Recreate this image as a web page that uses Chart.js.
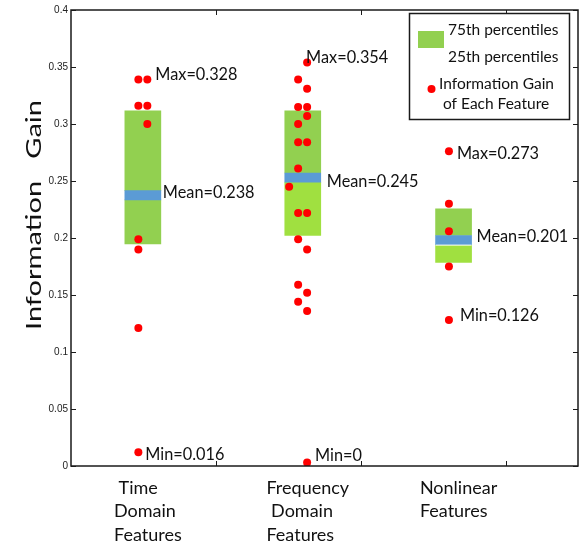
<!DOCTYPE html>
<html><head><meta charset="utf-8">
<script src="https://cdn.jsdelivr.net/npm/chart.js@4.4.1/dist/chart.umd.min.js"></script>
<style>html,body{margin:0;padding:0;background:#fff}canvas{display:block}</style>
</head><body>
<canvas id="c" width="582" height="546"></canvas>
<script>
// ---------- data ----------
const categories = [[' Time', 'Domain', 'Features'], ['Frequency', ' Domain', 'Features'], ['Nonlinear', 'Features']];
const groupX = [0.496, 1.600, 2.641];
const q75 = [0.3115, 0.3115, 0.2256];
const q25 = [0.1947, 0.2022, 0.1786];
const means = [0.2375, 0.2530, 0.1982];
const maxLabels = ['Max=0.328', 'Max=0.354', 'Max=0.273'];
const meanLabels = ['Mean=0.238', 'Mean=0.245', 'Mean=0.201'];
const minLabels = ['Min=0.016', 'Min=0', 'Min=0.126'];
const timePoints = [[0.465,0.339],[0.527,0.339],[0.465,0.316],[0.527,0.316],[0.527,0.300],[0.465,0.199],[0.465,0.190],[0.465,0.121],[0.465,0.012]];
const freqPoints = [[1.630,0.354],[1.568,0.339],[1.630,0.331],[1.568,0.315],[1.630,0.315],[1.630,0.307],[1.568,0.300],[1.568,0.284],[1.630,0.284],[1.568,0.261],[1.506,0.245],[1.568,0.222],[1.630,0.222],[1.568,0.199],[1.630,0.190],[1.568,0.159],[1.630,0.152],[1.568,0.144],[1.630,0.136],[1.630,0.003]];
const nonlinearPoints = [[2.609,0.276],[2.609,0.230],[2.609,0.206],[2.609,0.175],[2.609,0.128]];
const yTickValues = [0, 0.05, 0.1, 0.15, 0.2, 0.25, 0.3, 0.35, 0.4];
const yTickLabels = ['0', '0.05', '0.1', '0.15', '0.2', '0.25', '0.3', '0.35', '0.4'];
const xTickValues = [1, 2, 3];
const yTitle = 'Information   Gain';
const legendTexts = ['75th percentiles', '25th percentiles', 'Information Gain', 'of Each Feature'];

// ---------- styles ----------
const GREEN = '#92D050';
const lowerColors = ['#92D050', '#A0E040', '#A0E040'];
const BLUE = '#5B9BD5';
const RED = '#FF0000';
const BAND = 0.004;
const LABEL_FONT = '16.3px Lato';
const groupsPts = [timePoints, freqPoints, nonlinearPoints];
const maxOff = [[8,-5],[-1,-5],[8,2]];
const meanOff = [[2,-2.5],[6,4.5],[5,-3]];
const minOff = [[7,2.5],[8,-7],[11,-4.5]];

const toXY = a => a.map(p => ({x: p[0], y: p[1]}));
const allPoints = toXY(timePoints.concat(freqPoints, nonlinearPoints));

const upperData = groupX.map((x, i) => ({x, y: [means[i] + BAND, q75[i]]}));
const lowerData = groupX.map((x, i) => ({x, y: [q25[i], means[i] - BAND]}));
const bandData = groupX.map((x, i) => ({x, y: [means[i] - BAND, means[i] + BAND]}));

const annot = {
  id: 'annot',
  afterDatasetsDraw(chart) {
    const {ctx, scales: {x, y}} = chart;
    ctx.save();
    // thin white separator under the nonlinear mean band
    ctx.fillStyle = '#fff';
    const nx = x.getPixelForValue(groupX[2]);
    ctx.fillRect(nx - 18, y.getPixelForValue(means[2] - BAND), 36, 1);
    ctx.fillStyle = '#111';
    ctx.font = LABEL_FONT;
    ctx.textBaseline = 'middle';
    ctx.textAlign = 'left';
    groupsPts.forEach((pts, g) => {
      let top = pts[0], bot = pts[0];
      pts.forEach(p => { if (p[1] > top[1] || (p[1] === top[1] && p[0] > top[0])) top = p; if (p[1] < bot[1]) bot = p; });
      ctx.fillText(maxLabels[g], x.getPixelForValue(top[0]) + maxOff[g][0], y.getPixelForValue(top[1]) + maxOff[g][1]);
      ctx.fillText(minLabels[g], x.getPixelForValue(bot[0]) + minOff[g][0], y.getPixelForValue(bot[1]) + minOff[g][1]);
      const right = x.getPixelForValue(groupX[g]) + 18;
      ctx.fillText(meanLabels[g], right + meanOff[g][0], y.getPixelForValue(means[g]) + meanOff[g][1]);
    });
    ctx.restore();
  },
  afterDraw(chart) {
    const {ctx, chartArea: a, scales: {x, y}} = chart;
    ctx.save();
    // frame
    ctx.strokeStyle = '#1a1a1a';
    ctx.lineWidth = 1.5;
    ctx.strokeRect(a.left, a.top, a.right - a.left, a.bottom - a.top);
    ctx.lineWidth = 1;
    ctx.beginPath();
    yTickValues.forEach(v => {
      const py = Math.round(y.getPixelForValue(v)) + 0.5;
      ctx.moveTo(a.left, py); ctx.lineTo(a.left + 5, py);
      ctx.moveTo(a.right, py); ctx.lineTo(a.right - 5, py);
    });
    xTickValues.forEach(v => {
      const px = Math.round(x.getPixelForValue(v)) + 0.5;
      ctx.moveTo(px, a.bottom); ctx.lineTo(px, a.bottom - 5);
      ctx.moveTo(px, a.top); ctx.lineTo(px, a.top + 5);
    });
    ctx.stroke();
    // category labels
    ctx.fillStyle = '#111';
    ctx.font = '18px Lato';
    ctx.textBaseline = 'middle';
    ctx.textAlign = 'left';
    categories.forEach((lines, g) => {
      const w = Math.max(...lines.map(s => ctx.measureText(s.trim()).width));
      const left = x.getPixelForValue(groupX[g]) + 5 - w / 2;
      lines.forEach((s, k) => ctx.fillText(s, left, a.bottom + 22 + k * 23.5));
    });
    // y title (stretched along its length like the reference)
    ctx.save();
    ctx.font = '22px Lato';
    const tw = ctx.measureText(yTitle).width;
    ctx.translate(33.5, 215);
    ctx.rotate(-Math.PI / 2);
    ctx.scale(230 / tw, 1);
    ctx.textAlign = 'center';
    ctx.fillText(yTitle, 0, 0);
    ctx.restore();
    // legend
    ctx.fillStyle = '#fff';
    ctx.fillRect(409.5, 13.5, 160, 106);
    ctx.strokeStyle = '#1a1a1a';
    ctx.lineWidth = 1.5;
    ctx.strokeRect(409.5, 13.5, 160, 106);
    ctx.fillStyle = GREEN;
    ctx.fillRect(418, 31, 26, 17);
    ctx.fillStyle = RED;
    ctx.beginPath(); ctx.arc(431.5, 89, 4, 0, Math.PI * 2); ctx.fill();
    ctx.fillStyle = '#111';
    ctx.font = '15.5px Lato';
    ctx.textAlign = 'left';
    ctx.fillText(legendTexts[0], 448, 30);
    ctx.fillText(legendTexts[1], 448, 57);
    ctx.fillText(legendTexts[2], 439, 83.5);
    ctx.fillText(legendTexts[3], 443, 104);
    ctx.restore();
  }
};

new Chart(document.getElementById('c'), {
  type: 'bar',
  data: {
    datasets: [
      {type: 'scatter', data: allPoints, backgroundColor: RED, borderWidth: 0, pointRadius: 4, pointHoverRadius: 4, order: 0},
      {data: bandData, backgroundColor: BLUE, barThickness: 36, grouped: false, order: 1},
      {data: upperData, backgroundColor: GREEN, barThickness: 36, grouped: false, order: 2},
      {data: lowerData, backgroundColor: lowerColors, barThickness: 36, grouped: false, order: 2}
    ]
  },
  options: {
    responsive: false,
    animation: false,
    events: [],
    layout: {padding: {top: 10, right: 4, left: 0, bottom: 0}},
    plugins: {legend: {display: false}, tooltip: {enabled: false}},
    scales: {
      x: {
        type: 'linear', min: 0, max: 3.5, offset: false,
        grid: {display: false, drawTicks: false}, border: {display: false},
        ticks: {display: false},
        afterBuildTicks: s => { s.ticks = xTickValues.map(v => ({value: v})); },
        afterFit: s => { s.height = 80; }
      },
      y: {
        min: 0, max: 0.4,
        grid: {display: false, drawTicks: false}, border: {display: false},
        afterBuildTicks: s => { s.ticks = yTickValues.map(v => ({value: v})); },
        ticks: {
          padding: 3, color: '#222',
          font: {family: 'Liberation Sans', size: 10},
          callback: (v, i) => yTickLabels[i]
        },
        afterFit: s => { s.width = 71; }
      }
    }
  },
  plugins: [annot]
});
</script>
</body></html>
